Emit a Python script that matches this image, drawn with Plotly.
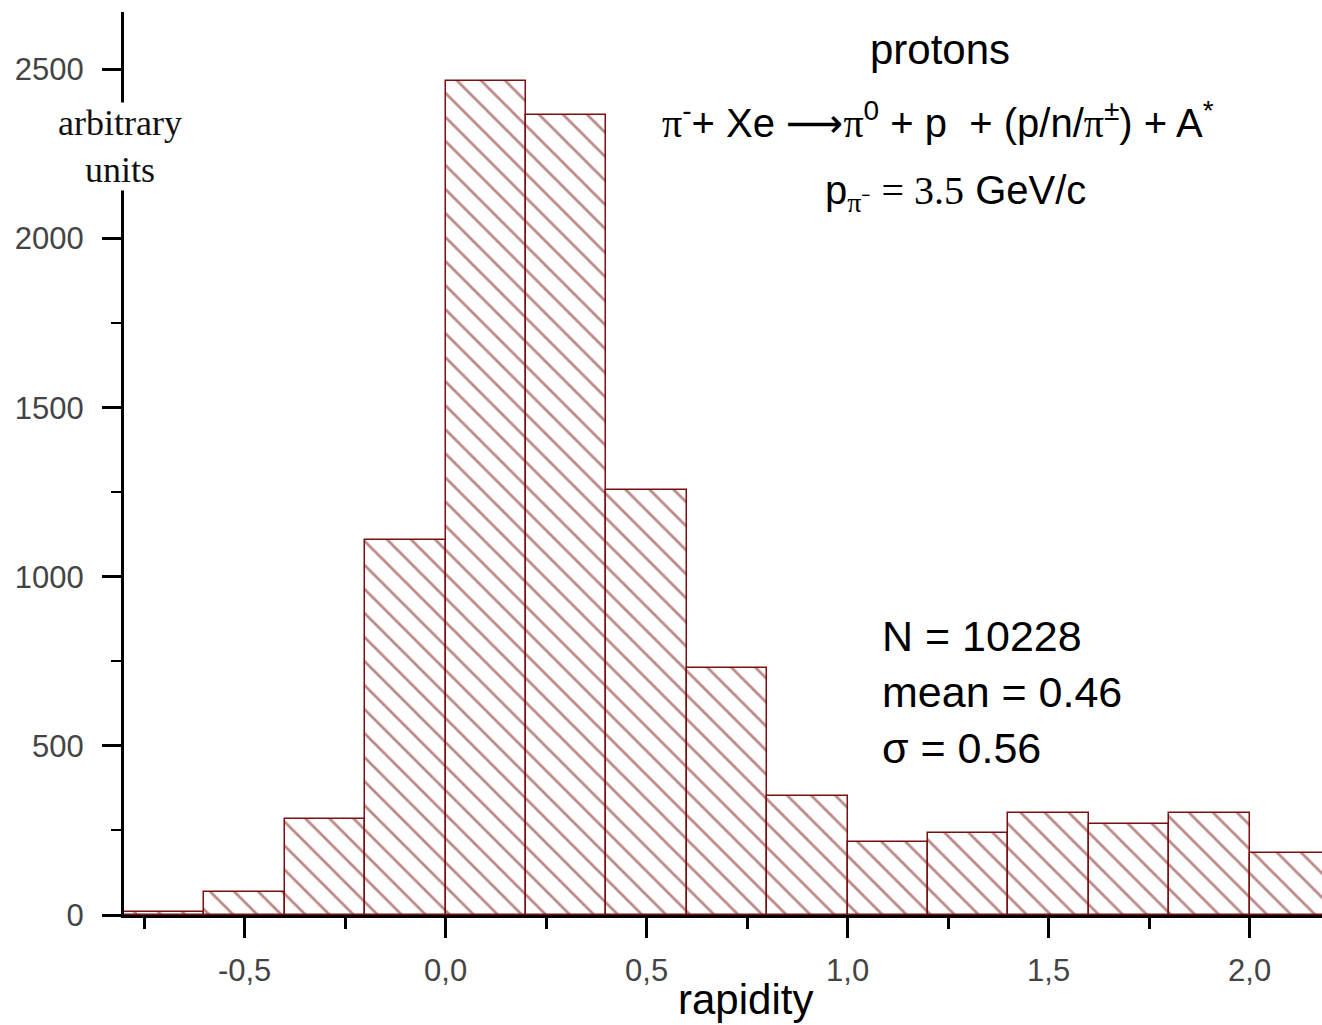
import plotly.graph_objects as go

# ---- data ----
bin_left = [-0.8, -0.6, -0.4, -0.2, 0.0, 0.2, 0.4, 0.6, 0.8, 1.0, 1.2, 1.4, 1.6, 1.8, 2.0]
counts = [10, 68, 284, 1108, 2465, 2364, 1256, 730, 352, 216, 242, 301, 269, 301, 183]
bin_width = 0.2
x_tickvals = [-0.5, 0.0, 0.5, 1.0, 1.5, 2.0]
x_ticktext = ["-0,5", "0,0", "0,5", "1,0", "1,5", "2,0"]
y_tickvals = [0, 500, 1000, 1500, 2000, 2500]
y_ticktext = ["0", "500", "1000", "1500", "2000", "2500"]

W, H = 1322, 1025
L, R, T, B = 124, 1322, 12, 915
def px(x):
    return (x - L) / (R - L)
def py(y):
    return (B - y) / (B - T)

RED = "#7A1010"
centers = [b + bin_width / 2 for b in bin_left]

fig = go.Figure()
fig.add_trace(go.Bar(
    x=centers, y=counts, width=bin_width,
    marker=dict(color="white",
                line=dict(color=RED, width=1.5),
                pattern=dict(shape="\\", fgcolor=RED, bgcolor="white",
                             size=17, solidity=0.16, fillmode="overlay")),
    showlegend=False,
))

tickfont = dict(family="Liberation Sans, Arial", size=31, color="#444")
fig.update_xaxes(range=[-0.8, 2.18], showline=True, linewidth=3, linecolor="black",
                 tickvals=x_tickvals, ticktext=x_ticktext, ticks="outside",
                 ticklen=20, tickwidth=3, tickcolor="black", tickfont=tickfont,
                 ticklabelstandoff=6,
                 minor=dict(dtick=0.25, tick0=0, ticks="outside", ticklen=11,
                            tickwidth=3, tickcolor="black", showgrid=False),
                 showgrid=False, zeroline=False)
fig.update_yaxes(range=[0, 2670], showline=True, linewidth=3, linecolor="black",
                 tickvals=y_tickvals, ticktext=y_ticktext, ticks="outside",
                 ticklen=19, tickwidth=3, tickcolor="black", tickfont=tickfont,
                 ticklabelstandoff=12,
                 minor=dict(dtick=250, tick0=0, ticks="outside", ticklen=10,
                            tickwidth=2, tickcolor="black", showgrid=False),
                 showgrid=False, zeroline=False)

ann = []
serif = "Liberation Serif, Times New Roman"
sans = "Liberation Sans, Arial"
# y-axis title; its white background opens a gap in the y axis line
ann.append(dict(x=px(120), y=py(147), text="arbitrary<br>units", bgcolor="white", borderpad=0,
                font=dict(family=serif, size=36, color="#111")))
ann.append(dict(x=px(940), y=py(50), text="protons", font=dict(family=sans, size=42, color="black")))
ann.append(dict(x=px(938), y=py(120),
                text="<span style='font-family:Liberation Serif'>π</span><sup>-</sup>+ Xe "
                     "<span style='font-family:DejaVu Sans'>⟶</span>"
                     "<span style='font-family:Liberation Serif'>π</span><sup>0</sup> + p  + "
                     "(p/n/<span style='font-family:Liberation Serif'>π</span><sup>±</sup>) + A<sup>*</sup>",
                font=dict(family=sans, size=40, color="black")))
ann.append(dict(x=px(955), y=py(193),
                text="p<sub><span style='font-family:Liberation Serif'>π</span>⁻</sub> "
                     "<span style='font-family:Liberation Serif'>= 3.5</span> GeV/c",
                font=dict(family=sans, size=40, color="black")))
for i, t in enumerate(["N = 10228", "mean = 0.46", "σ = 0.56"]):
    ann.append(dict(x=px(880), y=py(636 + 56 * i), text=t, xanchor="left",
                    font=dict(family=sans, size=43, color="black")))
ann.append(dict(x=px(745), y=py(1000), text="rapidity", font=dict(family=sans, size=42, color="black")))
for a in ann:
    a.setdefault("xref", "paper")
    a.setdefault("yref", "paper")
    a.setdefault("showarrow", False)
    a.setdefault("xanchor", "center")
    a.setdefault("yanchor", "middle")

fig.update_layout(width=W, height=H, margin=dict(l=L, r=W - R, t=T, b=H - B),
                  plot_bgcolor="white", paper_bgcolor="white",
                  annotations=ann, bargap=0)
fig.write_html("out.html")
